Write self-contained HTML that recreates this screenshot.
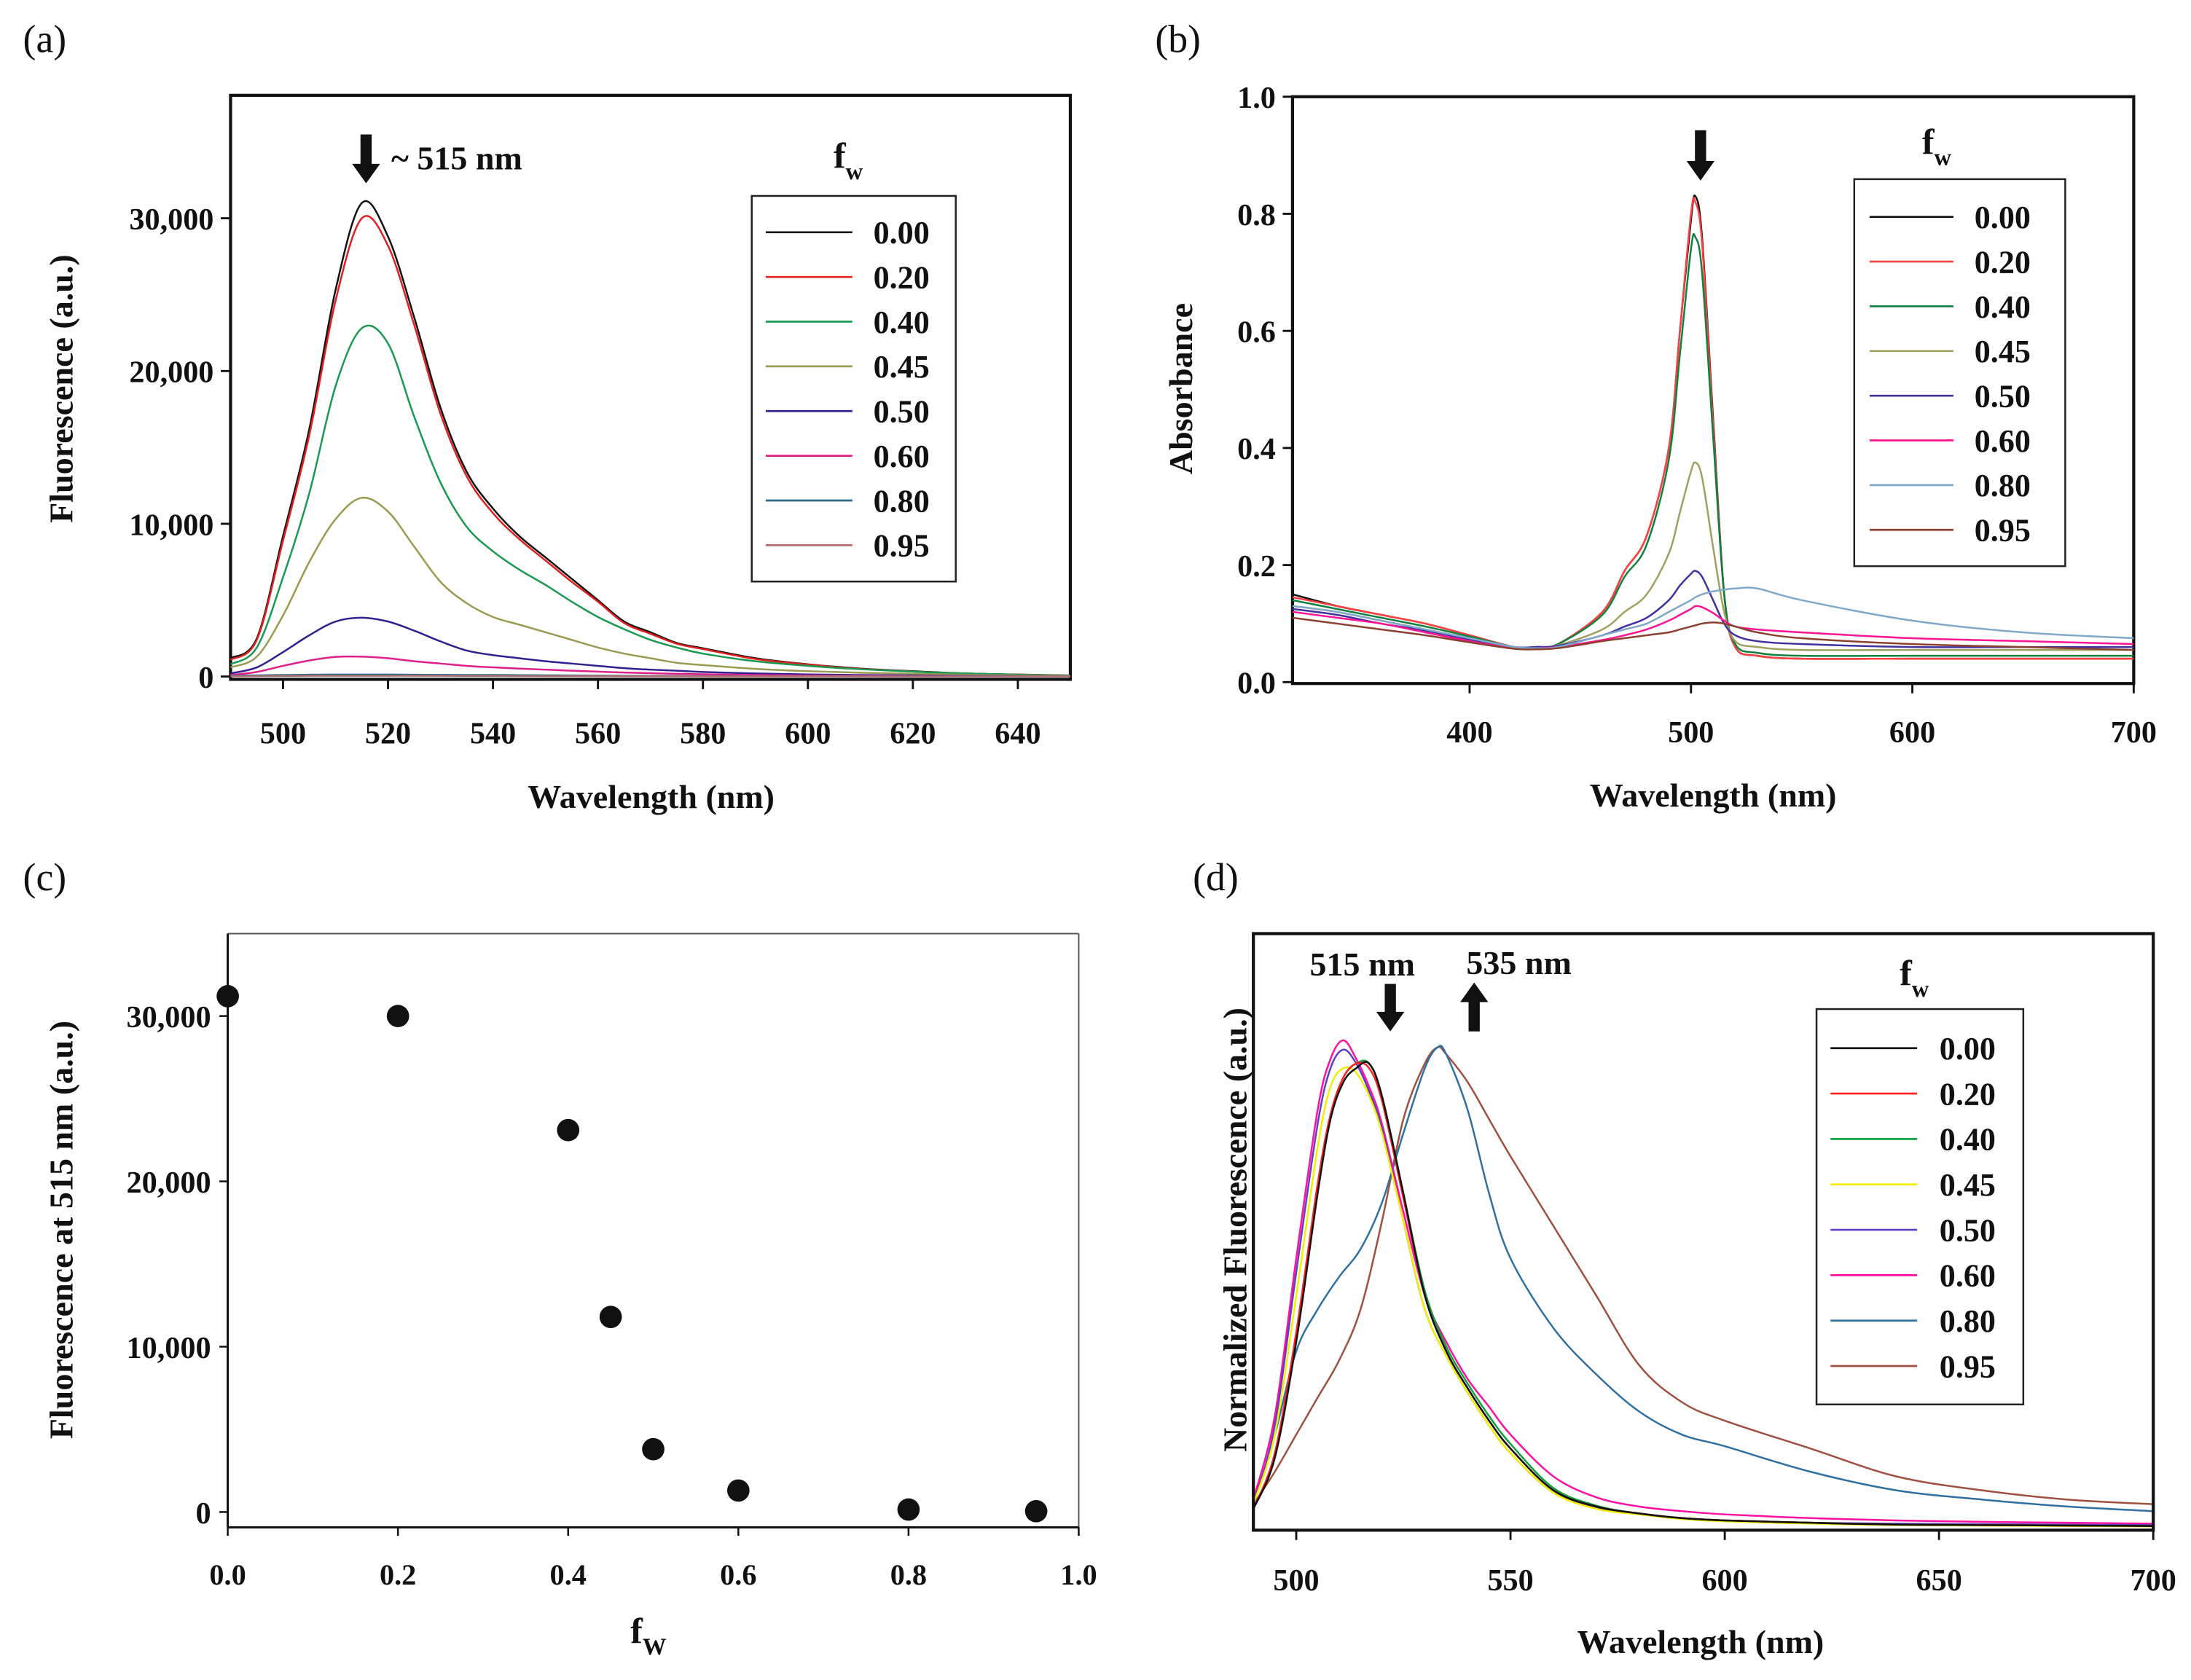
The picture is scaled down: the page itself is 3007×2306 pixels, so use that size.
<!DOCTYPE html>
<html><head><meta charset="utf-8"><style>
html,body{margin:0;padding:0;background:#fff;}
svg{display:block;}
text{font-family:"Liberation Serif",serif;font-weight:bold;fill:#111;}
text.plain{font-weight:normal;}
</style></head>
<body>
<svg id="fig" width="3007" height="2306" viewBox="0 0 1568 1202" xmlns="http://www.w3.org/2000/svg"></svg>
<script>
// ---------- Panel (a) data ----------
const aWave = [490,495,500,505,510,515,520,525,530,535,540,545,550,555,560,565,570,575,580,590,600,610,620,630,640,650];
const aF000 = [1200,2500,9200,16200,25300,31000,28800,23500,17600,13400,11000,9200,7800,6400,5000,3600,2900,2200,1850,1200,800,520,350,200,130,70];
const aF020 = [1100,2400,8900,15800,24600,30000,28200,23000,17200,13100,10700,9000,7600,6200,4900,3500,2800,2150,1800,1150,780,500,330,190,120,60];
const aF040 = [800,1900,6500,12000,19000,22800,21800,17000,12700,9800,8200,7000,6000,4900,3900,3100,2400,1900,1500,1000,700,480,320,200,120,60];
const aF045 = [600,1300,4000,7500,10300,11700,10800,8500,6200,4800,3900,3400,2900,2400,1900,1500,1200,900,750,500,350,250,180,120,80,50];
const aF050 = [200,600,1600,2700,3600,3850,3600,3000,2300,1700,1400,1200,1000,850,700,550,450,380,300,200,140,100,70,50,30,20];
const aF060 = [100,300,700,1050,1280,1300,1200,1000,850,700,600,520,450,380,320,260,220,180,150,100,70,50,30,20,10,10];
const aF080 = [50,80,100,120,130,130,130,120,110,100,100,90,80,70,60,50,40,40,30,20,20,10,10,10,10,10];
const aF095 = [20,30,40,50,50,50,50,50,45,40,40,35,30,30,25,20,20,20,15,10,10,10,5,5,5,5];
const aXTicks = [500,520,540,560,580,600,620,640];
const aYTicks = [0,10000,20000,30000];
const aYLabels = ["0","10,000","20,000","30,000"];
// ---------- Panel (b) data ----------
const bWave = [320,340,360,380,400,420,430,440,460,470,480,490,495,500,502,505,510,515,520,530,550,600,650,700];
const bA000 = [0.15,0.13,0.115,0.10,0.08,0.06,0.06,0.065,0.12,0.19,0.25,0.40,0.60,0.79,0.83,0.76,0.45,0.15,0.06,0.045,0.04,0.04,0.04,0.04];
const bA020 = [0.145,0.13,0.115,0.10,0.08,0.06,0.06,0.065,0.12,0.19,0.25,0.40,0.60,0.80,0.82,0.75,0.44,0.15,0.06,0.045,0.04,0.04,0.04,0.04];
const bA040 = [0.14,0.125,0.11,0.095,0.078,0.06,0.06,0.065,0.115,0.18,0.235,0.38,0.56,0.74,0.76,0.70,0.42,0.15,0.065,0.05,0.045,0.045,0.045,0.045];
const bA045 = [0.13,0.12,0.105,0.09,0.075,0.06,0.06,0.063,0.09,0.12,0.15,0.22,0.29,0.36,0.375,0.35,0.23,0.12,0.07,0.06,0.055,0.055,0.055,0.055];
const bA050 = [0.125,0.115,0.10,0.088,0.073,0.06,0.06,0.062,0.08,0.095,0.11,0.14,0.165,0.185,0.19,0.18,0.14,0.10,0.08,0.07,0.065,0.06,0.06,0.06];
const bA060 = [0.12,0.11,0.10,0.085,0.07,0.058,0.058,0.06,0.072,0.08,0.09,0.105,0.115,0.125,0.13,0.128,0.118,0.105,0.095,0.09,0.085,0.075,0.07,0.065];
const bA080 = [0.13,0.12,0.105,0.09,0.075,0.06,0.058,0.06,0.08,0.09,0.10,0.12,0.13,0.14,0.145,0.15,0.155,0.158,0.16,0.16,0.14,0.105,0.085,0.075];
const bA095 = [0.11,0.10,0.09,0.08,0.068,0.057,0.056,0.058,0.07,0.075,0.08,0.085,0.09,0.095,0.097,0.10,0.102,0.10,0.095,0.085,0.075,0.065,0.06,0.055];
const bXTicks = [400,500,600,700];
const bYTicks = [0,0.2,0.4,0.6,0.8,1.0];
const bYLabels = ["0.0","0.2","0.4","0.6","0.8","1.0"];
// ---------- Panel (c) data ----------
const cFw = [0,0.2,0.4,0.45,0.5,0.6,0.8,0.95];
const cF = [31200,30000,23100,11800,3800,1300,150,50];
const cXTicks = [0,0.2,0.4,0.6,0.8,1.0];
const cXLabels = ["0.0","0.2","0.4","0.6","0.8","1.0"];
const cYTicks = [0,10000,20000,30000];
const cYLabels = ["0","10,000","20,000","30,000"];
// ---------- Panel (d) data ----------
const dWave = [490,495,500,505,508,511,514,517,520,525,530,535,540,545,550,560,570,580,590,600,620,640,660,680,700];
const dN000 = [0.04,0.15,0.40,0.72,0.88,0.96,0.99,1.0,0.93,0.72,0.50,0.38,0.30,0.23,0.17,0.08,0.045,0.03,0.02,0.015,0.01,0.006,0.005,0.004,0.003];
const dN020 = [0.04,0.16,0.42,0.74,0.89,0.97,1.0,0.99,0.92,0.71,0.50,0.38,0.30,0.23,0.17,0.08,0.045,0.03,0.02,0.015,0.01,0.006,0.005,0.004,0.003];
const dN040 = [0.04,0.16,0.42,0.74,0.89,0.97,1.0,1.0,0.93,0.72,0.51,0.39,0.31,0.24,0.18,0.085,0.047,0.03,0.02,0.015,0.01,0.006,0.005,0.004,0.003];
const dN045 = [0.05,0.20,0.50,0.82,0.95,0.99,0.98,0.93,0.85,0.66,0.47,0.37,0.29,0.22,0.16,0.075,0.04,0.028,0.018,0.013,0.008,0.005,0.004,0.003,0.002];
const dN050 = [0.05,0.22,0.55,0.87,0.99,1.03,1.0,0.94,0.86,0.66,0.47,0.37,0.29,0.22,0.16,0.075,0.042,0.03,0.02,0.015,0.01,0.008,0.007,0.006,0.005];
const dN060 = [0.06,0.24,0.58,0.90,1.01,1.05,1.01,0.95,0.87,0.68,0.50,0.40,0.32,0.26,0.20,0.11,0.065,0.045,0.035,0.028,0.02,0.015,0.012,0.01,0.008];
const dWave2 = [490,495,500,505,510,515,520,525,530,533,535,540,545,550,560,570,580,590,600,620,640,660,680,700];
const dN080 = [0.05,0.2,0.38,0.47,0.54,0.60,0.70,0.85,0.99,1.035,1.02,0.90,0.72,0.58,0.43,0.33,0.25,0.20,0.175,0.12,0.08,0.06,0.045,0.035];
const dN095 = [0.05,0.12,0.20,0.28,0.36,0.47,0.66,0.88,1.0,1.035,1.02,0.96,0.88,0.80,0.65,0.50,0.35,0.27,0.23,0.17,0.11,0.08,0.06,0.05];
const dXTicks = [500,550,600,650,700];
const fwLabels = ["0.00","0.20","0.40","0.45","0.50","0.60","0.80","0.95"];

const NS="http://www.w3.org/2000/svg";
const svg=document.getElementById('fig');
function mk(tag,attrs,parent){const e=document.createElementNS(NS,tag);for(const k in attrs)e.setAttribute(k,attrs[k]);(parent||svg).appendChild(e);return e;}
function txt(s,x,y,size,anchor,parent,extra){const t=mk('text',Object.assign({x:x,y:y,'font-size':size,'text-anchor':anchor||'middle'},extra||{}),parent);t.textContent=s;return t;}
function lin(d0,d1,r0,r1){return v=>r0+(v-d0)*(r1-r0)/(d1-d0);}
function smooth(pts){let d='M'+pts[0][0].toFixed(2)+','+pts[0][1].toFixed(2);
 for(let i=0;i<pts.length-1;i++){const p0=pts[Math.max(0,i-1)],p1=pts[i],p2=pts[i+1],p3=pts[Math.min(pts.length-1,i+2)];
  const c1=[p1[0]+(p2[0]-p0[0])/6,p1[1]+(p2[1]-p0[1])/6],c2=[p2[0]-(p3[0]-p1[0])/6,p2[1]-(p3[1]-p1[1])/6];
  d+=' C'+c1[0].toFixed(2)+','+c1[1].toFixed(2)+' '+c2[0].toFixed(2)+','+c2[1].toFixed(2)+' '+p2[0].toFixed(2)+','+p2[1].toFixed(2);}
 return d;}
function downArrow(x,y1,y2,g){mk('rect',{x:x-4,y:y1,width:8,height:y2-y1-12,fill:'#111'},g);mk('polygon',{points:(x-10)+','+(y2-14)+' '+(x+10)+','+(y2-14)+' '+x+','+y2,fill:'#111'},g);}
function upArrow(x,y1,y2,g){mk('polygon',{points:(x-10)+','+(y1+14)+' '+(x+10)+','+(y1+14)+' '+x+','+y1,fill:'#111'},g);mk('rect',{x:x-4,y:y1+12,width:8,height:y2-y1-12,fill:'#111'},g);}
function legend(g,x0,y0,w,h,firstY,step,lx1,lx2,tx,colors){
 const box=mk('rect',{x:x0,y:y0,width:w,height:h,fill:'#fff',stroke:'#222','stroke-width':1.3},g);
 
 fwLabels.forEach((l,i)=>{const eg=mk('g',{},g);
  
  
  const y=firstY+i*step;mk('line',{x1:lx1,x2:lx2,y1:y,y2:y,stroke:colors[i],'stroke-width':1.4},eg);
  txt(l,tx,y+8,23,'start',eg);});}
function fwTitle(g,x,y){const t=txt('f',x,y,26,'middle',g);const s=mk('tspan',{dy:8,'font-size':17},t);s.textContent='w';}

// ===== Panel a =====
(function(){
 const g=mk('g',{});
 const L=165,R=766,T=68,B=486;const X=lin(490,650,L,R),Y=lin(0,30000,484,156);
 txt('(a)',32,37,28,'middle',g,{'class':'plain'});
 mk('rect',{x:L,y:T,width:R-L,height:B-T,fill:'none',stroke:'#111','stroke-width':2.2},g);
 const cols=['#111','#e02020','#1a9a50','#9a9a50','#302090','#e0208a','#2a6a8a','#b07070'];
 [aF000,aF020,aF040,aF045,aF050,aF060,aF080,aF095].forEach((s,i)=>{
  const p=mk('path',{d:smooth(aWave.map((w,j)=>[X(w),Y(s[j])])),fill:'none',stroke:cols[i],'stroke-width':1.3},g);
  });
 aXTicks.forEach(v=>{mk('line',{x1:X(v),x2:X(v),y1:B,y2:B+7,stroke:'#111','stroke-width':1.5},g);txt(String(v),X(v),532,22,'middle',g);});
 aYTicks.forEach((v,i)=>{mk('line',{x1:L,x2:L-7,y1:Y(v),y2:Y(v),stroke:'#111','stroke-width':1.5},g);txt(aYLabels[i],L-12,Y(v)+8,22,'end',g);});
 const xt=txt('Wavelength (nm)',466,578,24,'middle',g);
 const yt=txt('Fluorescence (a.u.)',0,0,24,'middle',g,{transform:'translate(52,278) rotate(-90)'});
 downArrow(262,96,131,g);txt('~ 515 nm',280,121,24,'start',g);
 fwTitle(g,607,120);
 legend(g,538,140,146,276,166,32,548,610,625,cols);
})();

// ===== Panel b =====
(function(){
 const g=mk('g',{});
 const L=925,R=1527,T=69,B=489;const X=lin(320,700,L,R),Y=lin(0,1,488,69);
 txt('(b)',843,37,28,'middle',g,{'class':'plain'});
 mk('rect',{x:L,y:T,width:R-L,height:B-T,fill:'none',stroke:'#111','stroke-width':2.2},g);
 const cols=['#111','#ff4040','#108040','#a0a060','#4030a0','#ff1493','#80a8c8','#8b4030'];
 [bA000,bA020,bA040,bA045,bA050,bA060,bA080,bA095].forEach((s,i)=>{
  const p=mk('path',{d:smooth(bWave.map((w,j)=>[X(w),Y(s[j])])),fill:'none',stroke:cols[i],'stroke-width':1.3},g);
  });
 bXTicks.forEach(v=>{mk('line',{x1:X(v),x2:X(v),y1:B,y2:B+7,stroke:'#111','stroke-width':1.5},g);txt(String(v),X(v),531,22,'middle',g);});
 bYTicks.forEach((v,i)=>{mk('line',{x1:L,x2:L-7,y1:Y(v),y2:Y(v),stroke:'#111','stroke-width':1.5},g);txt(bYLabels[i],L-12,Y(v)+8,22,'end',g);});
 const xt=txt('Wavelength (nm)',1226,577,24,'middle',g);
 const yt=txt('Absorbance',0,0,24,'middle',g,{transform:'translate(853,278) rotate(-90)'});
 downArrow(1217,93,129,g);
 fwTitle(g,1386,110);
 legend(g,1327,128,151,277,155,32,1338,1398,1413,cols);
})();

// ===== Panel c =====
(function(){
 const g=mk('g',{});
 const L=163,R=772,T=668,B=1093;const X=lin(0,1,L,R),Y=lin(0,30000,1082,727);
 txt('(c)',32,637,28,'middle',g,{'class':'plain'});
 mk('line',{x1:L,x2:R,y1:T,y2:T,stroke:'#555','stroke-width':1},g);
 mk('line',{x1:R,x2:R,y1:T,y2:B,stroke:'#555','stroke-width':1},g);
 mk('line',{x1:L,x2:L,y1:T,y2:B,stroke:'#111','stroke-width':1.6},g);
 mk('line',{x1:L,x2:R,y1:B,y2:B,stroke:'#111','stroke-width':1.6},g);
 cFw.forEach((f,i)=>{const c=mk('circle',{cx:X(f),cy:Y(cF[i]),r:8,fill:'#111'},g);
  });
 cXTicks.forEach((v,i)=>{mk('line',{x1:X(v),x2:X(v),y1:B,y2:B+6,stroke:'#111','stroke-width':1.3},g);txt(cXLabels[i],X(v),1134,21,'middle',g);});
 cYTicks.forEach((v,i)=>{mk('line',{x1:L,x2:L-6,y1:Y(v),y2:Y(v),stroke:'#111','stroke-width':1.3},g);txt(cYLabels[i],L-12,Y(v)+8,22,'end',g);});
 const xt=txt('f',464,1176,26,'middle',g);const s=mk('tspan',{dy:8,'font-size':17},xt);s.textContent='W';
 
 const yt=txt('Fluorescence at 515 nm (a.u.)',0,0,24,'middle',g,{transform:'translate(52,880) rotate(-90)'});
})();

// ===== Panel d =====
(function(){
 const g=mk('g',{});
 const L=897,R=1541,T=668,B=1095;const X=lin(490,700,L,R),Y=lin(0,1,1093,761);
 txt('(d)',870,637,28,'middle',g,{'class':'plain'});
 const cols=['#111','#ff2020','#10a040','#f0f000','#6040c0','#ff10a0','#3070a0','#a05040'];
 const series=[[dWave,dN000],[dWave,dN020],[dWave,dN040],[dWave,dN045],[dWave,dN050],[dWave,dN060],[dWave2,dN080],[dWave2,dN095]];
 const order=[7,6,5,4,3,2,1,0];
 order.forEach(i=>{const [w,s]=series[i];
  const p=mk('path',{d:smooth(w.map((x,j)=>[X(x),Y(s[j])])),fill:'none',stroke:cols[i],'stroke-width':1.3},g);
  });
 mk('rect',{x:L,y:T,width:R-L,height:B-T,fill:'none',stroke:'#111','stroke-width':2.2},g);
 dXTicks.forEach(v=>{mk('line',{x1:X(v),x2:X(v),y1:B,y2:B+7,stroke:'#111','stroke-width':1.5},g);txt(String(v),X(v),1138,22,'middle',g);});
 const xt=txt('Wavelength (nm)',1217,1183,24,'middle',g);
 const yt=txt('Normalized Fluorescence (a.u.)',0,0,24,'middle',g,{transform:'translate(892,880) rotate(-90)'});
 txt('515 nm',975,698,24,'middle',g);txt('535 nm',1087,697,24,'middle',g);
 downArrow(995,704,738,g);upArrow(1055,703,738,g);
 fwTitle(g,1370,705);
 legend(g,1300,722,148,283,750,32.5,1310,1372,1388,cols);
})();
</script>
</body></html>
